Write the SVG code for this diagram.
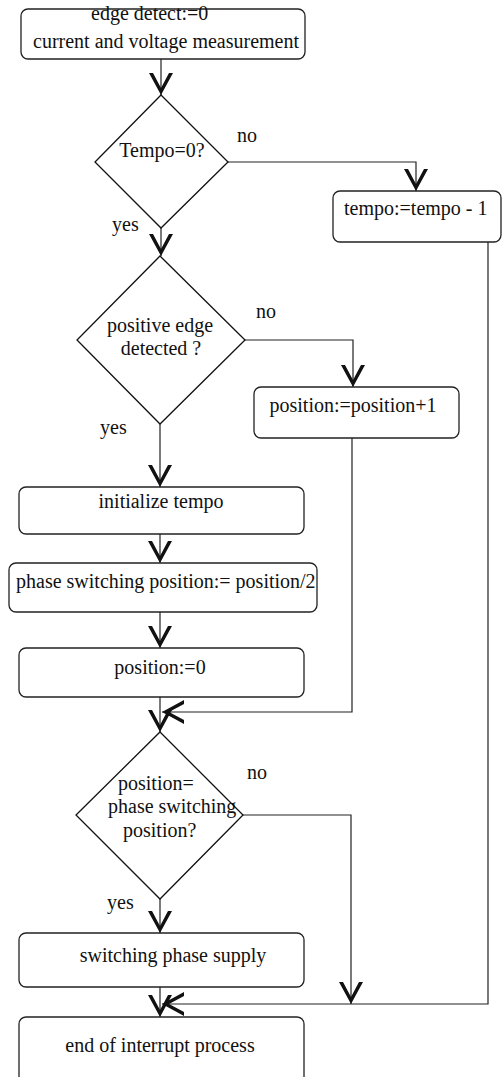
<svg xmlns="http://www.w3.org/2000/svg" width="502" height="1077" viewBox="0 0 502 1077">
<style>
.box{fill:#fff;stroke:#222;stroke-width:1.3}
.dia{fill:#fff;stroke:#111;stroke-width:1.3}
.t{font-family:"Liberation Serif","Times New Roman",serif;font-size:20px;fill:#111}
.c{text-anchor:middle}
.con{fill:none;stroke:#222;stroke-width:1.2}
</style>
<defs>
<marker id="arr" markerUnits="userSpaceOnUse" markerWidth="30" markerHeight="30" refX="0" refY="0" orient="auto" overflow="visible">
<path d="M-22,-12 L0,0 L-22,12 L-22,8 L-7,0 L-22,-8 Z" fill="#111"/>
</marker>
</defs>
<rect width="502" height="1077" fill="#fff"/>
<g id="connectors">
<path class="con" d="M161,59 V95" marker-end="url(#arr)"/>
<path class="con" d="M228,162 H416 V191" marker-end="url(#arr)"/>
<path class="con" d="M161,228 V256" marker-end="url(#arr)"/>
<path class="con" d="M245,340 H353 V387" marker-end="url(#arr)"/>
<path class="con" d="M160,424 V487" marker-end="url(#arr)"/>
<path class="con" d="M160,534 V563" marker-end="url(#arr)"/>
<path class="con" d="M160,612 V648" marker-end="url(#arr)"/>
<path class="con" d="M160,697 V732" marker-end="url(#arr)"/>
<path class="con" d="M352,438 V712 H162" marker-end="url(#arr)"/>
<path class="con" d="M243,815 H351 V1004" marker-end="url(#arr)"/>
<path class="con" d="M160,899 V933" marker-end="url(#arr)"/>
<path class="con" d="M160,987 V1017" marker-end="url(#arr)"/>
<path class="con" d="M488,242 V1004 H162" marker-end="url(#arr)"/>
<text class="t" x="237" y="142">no</text>
<text class="t" x="112" y="231">yes</text>
<text class="t" x="256" y="318">no</text>
<text class="t" x="100" y="434">yes</text>
<text class="t" x="247" y="779">no</text>
<text class="t" x="107" y="909">yes</text>
</g>
<g id="start">
<rect class="box" x="21" y="9" width="284" height="50" rx="7"/>
<text class="t" x="91" y="20">edge detect:=0</text>
<text class="t" x="33" y="48">current and voltage measurement</text>
</g>
<g id="tempo-zero">
<polygon class="dia" points="161,95 228,162 161,228 95,162"/>
<text class="t c" x="162" y="157">Tempo=0?</text>
</g>
<g id="tempo-dec">
<rect class="box" x="333" y="191" width="168" height="51" rx="7"/>
<text class="t" x="344" y="215">tempo:=tempo - 1</text>
</g>
<g id="edge-detected">
<polygon class="dia" points="160,256 245,340 160,424 77,340"/>
<text class="t c" x="160" y="332">positive edge</text>
<text class="t c" x="161" y="355">detected ?</text>
</g>
<g id="position-inc">
<rect class="box" x="254" y="387" width="205" height="51" rx="7"/>
<text class="t c" x="353" y="412">position:=position+1</text>
</g>
<g id="init-tempo">
<rect class="box" x="19" y="487" width="285" height="47" rx="7"/>
<text class="t c" x="161" y="508">initialize tempo</text>
</g>
<g id="phase-pos">
<rect class="box" x="9" y="563" width="308" height="49" rx="7"/>
<text class="t" x="16" y="588">phase switching position:= position/2</text>
</g>
<g id="position-reset">
<rect class="box" x="19" y="648" width="285" height="49" rx="7"/>
<text class="t c" x="160" y="674">position:=0</text>
</g>
<g id="position-check">
<polygon class="dia" points="160,732 243,815 160,899 76,815"/>
<text class="t" x="118" y="790">position=</text>
<text class="t" x="108" y="813">phase switching</text>
<text class="t" x="123" y="837">position?</text>
</g>
<g id="switch-supply">
<rect class="box" x="19" y="933" width="285" height="54" rx="7"/>
<text class="t c" x="173" y="962">switching phase supply</text>
</g>
<g id="end">
<rect class="box" x="19" y="1017" width="285" height="70" rx="7"/>
<text class="t c" x="160" y="1052">end of interrupt process</text>
</g>
</svg>
